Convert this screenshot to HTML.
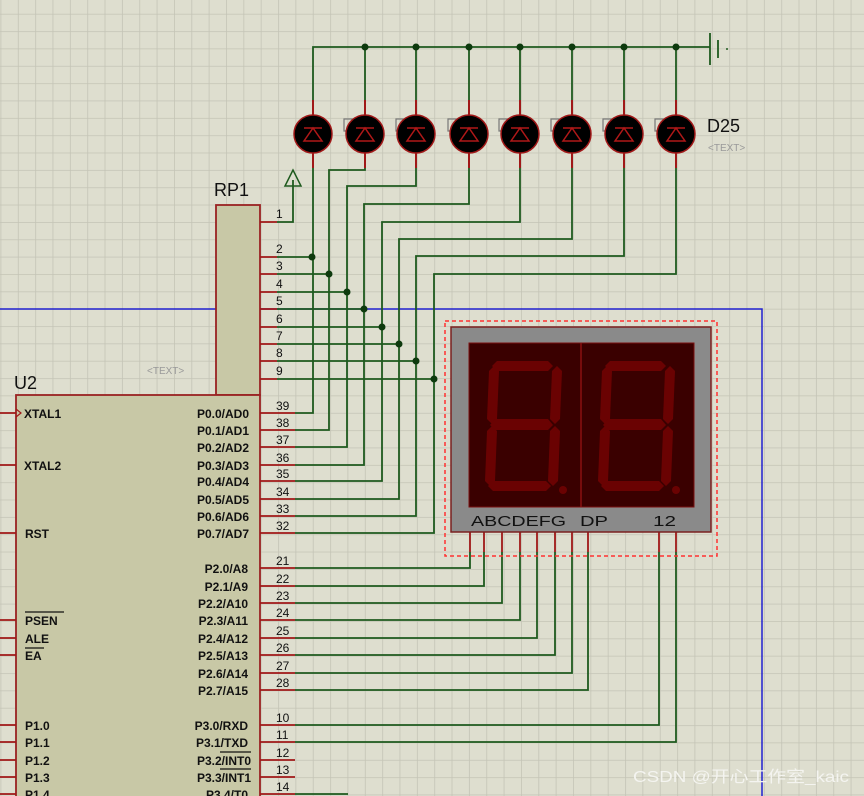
<!DOCTYPE html>
<html><head><meta charset="utf-8"><style>
html,body{margin:0;padding:0;background:#dedecf;}
svg{display:block;font-family:"Liberation Sans",Arial,sans-serif;}
.pl{font-size:12px;fill:#111;font-weight:bold;}
.pn{font-size:12px;fill:#111;}
</style></head><body>
<svg width="864" height="796" viewBox="0 0 864 796" xmlns="http://www.w3.org/2000/svg">
<defs>
<pattern id="g" x="0.5" y="13.8" width="17.35" height="17.35" patternUnits="userSpaceOnUse">
<path d="M0 0H17.35M0 0V17.35" stroke="#c4c4b6" stroke-width="1.6" fill="none"/>
</pattern>
<g id="led">
<line x1="0" y1="-34" x2="0" y2="34" stroke="#a01818" stroke-width="2"/>
<circle r="19" fill="#000" stroke="#a01818" stroke-width="1.5"/>
<path d="M-9 -6H9M-9 7H9L0 -6Z" fill="none" stroke="#b01818" stroke-width="1.5"/>
</g>
</defs>
<rect width="864" height="796" fill="#dedecf"/>
<rect width="864" height="796" fill="url(#g)"/>

<path d="M0 309H762V796" stroke="#2020d0" stroke-width="1.5" fill="none"/>

<g stroke="#1e5a1e" stroke-width="1.8" fill="none">
<path d="M313 100V47H710"/>
<path d="M365 47V100M416 47V100M469 47V100M520 47V100M572 47V100M624 47V100M676 47V100"/>
<path d="M313 168V413H295"/>
<path d="M365 168V170H329V430H295"/>
<path d="M416 168V186H347V447H295"/>
<path d="M469 168V204H364V465H295"/>
<path d="M520 168V222H382V481H295"/>
<path d="M572 168V239H399V499H295"/>
<path d="M624 168V256H416V516H295"/>
<path d="M676 168V274H434V533H295"/>
<path d="M277 222H293V180"/>
<path d="M277 257H312M277 274H329M277 292H347M277 309H364M277 327H382M277 344H399M277 361H416M277 379H434"/>
<path d="M295 568H470V552M295 586H484V552M295 603H502V552M295 620H520V552M295 638H537V552M295 655H555V552M295 673H572V552M295 690H588V552"/>
<path d="M295 725H659V552M295 742H676V552M295 794H348"/>
</g>
<g fill="#0e3a0e">
<circle cx="365" cy="47" r="3.5"/><circle cx="416" cy="47" r="3.5"/><circle cx="469" cy="47" r="3.5"/><circle cx="520" cy="47" r="3.5"/><circle cx="572" cy="47" r="3.5"/><circle cx="624" cy="47" r="3.5"/><circle cx="676" cy="47" r="3.5"/>
<circle cx="312" cy="257" r="3.5"/><circle cx="329" cy="274" r="3.5"/><circle cx="347" cy="292" r="3.5"/><circle cx="364" cy="309" r="3.5"/><circle cx="382" cy="327" r="3.5"/><circle cx="399" cy="344" r="3.5"/><circle cx="416" cy="361" r="3.5"/><circle cx="434" cy="379" r="3.5"/>
</g>
<path d="M710 33V65M718 40V58" stroke="#1e5a1e" stroke-width="1.8"/>
<circle cx="727" cy="49" r="1" fill="#1e5a1e"/>
<path d="M293 170L285 186H301Z" fill="none" stroke="#1e5a1e" stroke-width="1.5"/>

<g fill="none" stroke="#777" stroke-width="1.2">
<rect x="344" y="119" width="14" height="12"/><rect x="396" y="119" width="14" height="12"/><rect x="448" y="119" width="14" height="12"/><rect x="499" y="119" width="14" height="12"/><rect x="551" y="119" width="14" height="12"/><rect x="603" y="119" width="14" height="12"/><rect x="655" y="119" width="14" height="12"/>
</g>
<use href="#led" x="313" y="134"/><use href="#led" x="365" y="134"/><use href="#led" x="416" y="134"/><use href="#led" x="469" y="134"/><use href="#led" x="520" y="134"/><use href="#led" x="572" y="134"/><use href="#led" x="624" y="134"/><use href="#led" x="676" y="134"/>
<text x="707" y="132" font-size="18" fill="#111">D25</text>
<text x="708" y="151" font-size="10" fill="#999">&lt;TEXT&gt;</text>

<text x="214" y="196" font-size="18" fill="#111">RP1</text>
<rect x="216" y="205" width="44" height="190" fill="#c8c8a6" stroke="#9a2222" stroke-width="1.8"/>
<g stroke="#a01818" stroke-width="1.8">
<path d="M260 222H277M260 257H277M260 274H277M260 292H277M260 309H277M260 327H277M260 344H277M260 361H277M260 379H277"/>
</g>
<g class="pn">
<text x="276" y="218">1</text><text x="276" y="253">2</text><text x="276" y="270">3</text><text x="276" y="288">4</text><text x="276" y="305">5</text><text x="276" y="323">6</text><text x="276" y="340">7</text><text x="276" y="357">8</text><text x="276" y="375">9</text>
</g>
<text x="147" y="374" font-size="10" fill="#999">&lt;TEXT&gt;</text>

<text x="14" y="389" font-size="18" fill="#111">U2</text>
<rect x="16" y="395" width="244" height="410" fill="#c8c8a6" stroke="#9a2222" stroke-width="1.8"/>
<g stroke="#a01818" stroke-width="1.8">
<path d="M0 413H16M0 465H16M0 533H16M0 620H16M0 638H16M0 655H16M0 725H16M0 742H16M0 760H16M0 777H16M0 794H16"/>
<path d="M260 413H295M260 430H295M260 447H295M260 465H295M260 481H295M260 499H295M260 516H295M260 533H295"/>
<path d="M260 568H295M260 586H295M260 603H295M260 620H295M260 638H295M260 655H295M260 673H295M260 690H295"/>
<path d="M260 725H295M260 742H295M260 760H295M260 777H295M260 794H295"/>
</g>
<path d="M16 409L21 413L16 417" fill="none" stroke="#a01818" stroke-width="1.2"/>
<g class="pl">
<text x="24" y="418">XTAL1</text><text x="24" y="470">XTAL2</text><text x="25" y="538">RST</text>
<text x="25" y="625">PSEN</text><text x="25" y="643">ALE</text><text x="25" y="660">EA</text>
<text x="25" y="730">P1.0</text><text x="25" y="747">P1.1</text><text x="25" y="765">P1.2</text><text x="25" y="782">P1.3</text><text x="25" y="799">P1.4</text>
</g>
<path d="M25 612H64M25 648H44" stroke="#111" stroke-width="1.2"/>
<g class="pl" text-anchor="end">
<text x="249" y="418">P0.0/AD0</text><text x="249" y="435">P0.1/AD1</text><text x="249" y="452">P0.2/AD2</text><text x="249" y="470">P0.3/AD3</text><text x="249" y="486">P0.4/AD4</text><text x="249" y="504">P0.5/AD5</text><text x="249" y="521">P0.6/AD6</text><text x="249" y="538">P0.7/AD7</text>
<text x="248" y="573">P2.0/A8</text><text x="248" y="591">P2.1/A9</text><text x="248" y="608">P2.2/A10</text><text x="248" y="625">P2.3/A11</text><text x="248" y="643">P2.4/A12</text><text x="248" y="660">P2.5/A13</text><text x="248" y="678">P2.6/A14</text><text x="248" y="695">P2.7/A15</text>
<text x="248" y="730">P3.0/RXD</text><text x="248" y="747">P3.1/TXD</text><text x="251" y="765">P3.2/INT0</text><text x="251" y="782">P3.3/INT1</text><text x="248" y="799">P3.4/T0</text>
</g>
<path d="M220 752H251M220 769H251" stroke="#111" stroke-width="1.2"/>
<g class="pn">
<text x="276" y="410">39</text><text x="276" y="427">38</text><text x="276" y="444">37</text><text x="276" y="462">36</text><text x="276" y="478">35</text><text x="276" y="496">34</text><text x="276" y="513">33</text><text x="276" y="530">32</text>
<text x="276" y="565">21</text><text x="276" y="583">22</text><text x="276" y="600">23</text><text x="276" y="617">24</text><text x="276" y="635">25</text><text x="276" y="652">26</text><text x="276" y="670">27</text><text x="276" y="687">28</text>
<text x="276" y="722">10</text><text x="276" y="739">11</text><text x="276" y="757">12</text><text x="276" y="774">13</text><text x="276" y="791">14</text>
</g>

<rect x="445" y="321" width="272" height="235" fill="none" stroke="#ff3030" stroke-width="1.5" stroke-dasharray="4,3"/>
<g stroke="#a01818" stroke-width="1.8">
<path d="M470 532V552M484 532V552M502 532V552M520 532V552M537 532V552M555 532V552M572 532V552M588 532V552M659 532V552M676 532V552"/>
</g>
<rect x="451" y="327" width="260" height="205" fill="#8a8a8a" stroke="#7a2020" stroke-width="1.5"/>
<rect x="469" y="343" width="225" height="164" fill="#3a0000" stroke="#7a1010" stroke-width="1"/>
<line x1="581" y1="343" x2="581" y2="507" stroke="#8a1010" stroke-width="1.5"/>
<g fill="#6a0202" id="dig">
<polygon points="497,361 548,361 553,366 548,371 497,371 492,366"/>
<polygon points="489,371 494,366 499,371 497,419 492,424 487,419"/>
<polygon points="552,371 557,366 562,371 560,419 555,424 550,419"/>
<polygon points="495,419 548,419 553,425 548,430 495,430 490,425"/>
<polygon points="487,431 492,426 497,431 495,481 490,486 485,481"/>
<polygon points="550,431 555,426 560,431 558,481 553,486 548,481"/>
<polygon points="493,481 546,481 551,486 546,491 493,491 488,486"/>
<circle cx="563" cy="490" r="4"/>
</g>
<use href="#dig" x="113" y="0"/>
<g font-size="15" fill="#111" font-family="Liberation Sans, sans-serif">
<text x="471" y="526" textLength="95" lengthAdjust="spacingAndGlyphs">ABCDEFG</text>
<text x="580" y="526" textLength="28" lengthAdjust="spacingAndGlyphs">DP</text>
<text x="653" y="526" textLength="23" lengthAdjust="spacingAndGlyphs">12</text>
</g>

<text x="633" y="782" font-size="16" fill="#f4f4f0" textLength="216" lengthAdjust="spacingAndGlyphs" font-family="Liberation Sans, Noto Sans CJK SC, sans-serif">CSDN @开心工作室_kaic</text>
</svg>
</body></html>
